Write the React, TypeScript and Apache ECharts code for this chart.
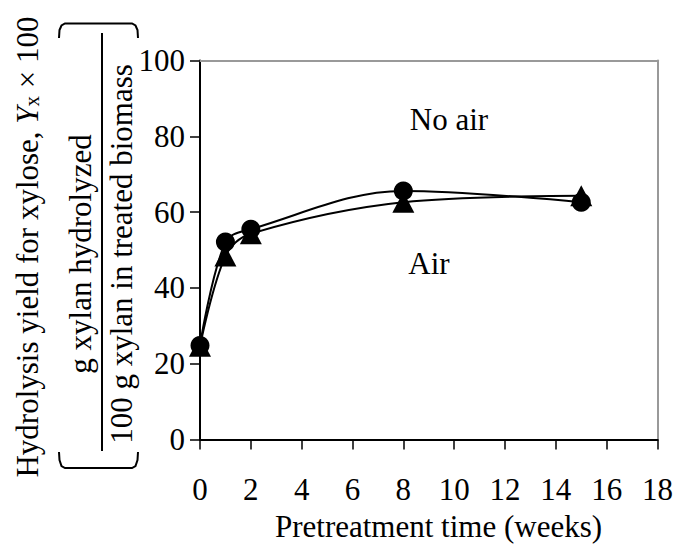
import React, { useEffect, useRef } from "react";
import * as echarts from "echarts";

const weeks = [0, 1, 2, 8, 15];
const circleSeries = [24.8, 52.1, 55.5, 65.6, 62.6];
const triangleSeries = [24.6, 48.4, 54.3, 62.6, 64.3];
const xTicks = { min: 0, max: 18, interval: 2 };
const yTicks = { min: 0, max: 100, interval: 20 };

const FONT = "Liberation Serif";
const FS = 31;

export default function App() {
  const ref = useRef<HTMLDivElement>(null);
  useEffect(() => {
    if (!ref.current) return;
    const chart = echarts.init(ref.current, undefined, { renderer: "svg" });
    const textStyle = (text: string, extra: any = {}) => ({
      text,
      fontSize: FS,
      fontFamily: FONT,
      fill: "#000",
      align: "center",
      verticalAlign: "middle",
      textAlign: "center",
      textVerticalAlign: "middle",
      ...extra,
    });
    chart.setOption({
      animation: false,
      backgroundColor: "#fff",
      textStyle: { fontFamily: FONT },
      grid: { left: 200, right: 14, top: 60.5, bottom: 104.5, show: false },
      xAxis: [
        {
          type: "value",
          min: xTicks.min,
          max: xTicks.max,
          interval: xTicks.interval,
          splitLine: { show: false },
          axisLine: { show: true, onZero: false, lineStyle: { color: "#000", width: 2 } },
          axisTick: { show: true, inside: false, length: 10, lineStyle: { color: "#000", width: 1.5 } },
          axisLabel: { fontSize: FS, fontFamily: FONT, color: "#000", margin: 34 },
        },
        {
          type: "value",
          position: "top",
          min: xTicks.min,
          max: xTicks.max,
          splitLine: { show: false },
          axisLine: { show: true, onZero: false, lineStyle: { color: "#999", width: 2 } },
          axisTick: { show: false },
          axisLabel: { show: false },
        },
      ],
      yAxis: [
        {
          type: "value",
          min: yTicks.min,
          max: yTicks.max,
          interval: yTicks.interval,
          splitLine: { show: false },
          axisLine: { show: true, onZero: false, lineStyle: { color: "#000", width: 2 } },
          axisTick: { show: true, inside: false, length: 10, lineStyle: { color: "#000", width: 1.5 } },
          axisLabel: { fontSize: FS, fontFamily: FONT, color: "#000", margin: 15 },
        },
        {
          type: "value",
          position: "right",
          min: yTicks.min,
          max: yTicks.max,
          splitLine: { show: false },
          axisLine: { show: true, onZero: false, lineStyle: { color: "#999", width: 2 } },
          axisTick: { show: false },
          axisLabel: { show: false },
        },
      ],
      series: [
        {
          name: "Air",
          type: "line",
          data: weeks.map((w, i) => [w, triangleSeries[i]]),
          smooth: 0.35,
          symbol: "triangle",
          symbolSize: [22, 21],
          clip: false,
          lineStyle: { color: "#000", width: 2 },
          itemStyle: { color: "#000" },
        },
        {
          name: "No air",
          type: "line",
          data: weeks.map((w, i) => [w, circleSeries[i]]),
          smooth: 0.35,
          symbol: "circle",
          symbolSize: 19,
          clip: false,
          lineStyle: { color: "#000", width: 2 },
          itemStyle: { color: "#000" },
        },
      ],
      graphic: [
        { type: "text", x: 449, y: 119, style: textStyle("No air") },
        { type: "text", x: 429, y: 263, style: textStyle("Air") },
        { type: "text", x: 438.5, y: 526, style: textStyle("Pretreatment time (weeks)") },
        {
          type: "text",
          x: 27,
          y: 247,
          rotation: Math.PI / 2,
          style: textStyle("Hydrolysis yield for xylose, {i|Y}{s|x} × 100", {
            rich: {
              i: { fontSize: FS, fontFamily: FONT, fontStyle: "italic", fill: "#000" },
              s: { fontSize: 21, fontFamily: FONT, fill: "#000", lineHeight: 25, verticalAlign: "bottom" },
            },
          }),
        },
        {
          type: "text",
          x: 80,
          y: 254,
          rotation: Math.PI / 2,
          style: textStyle("g xylan hydrolyzed"),
        },
        {
          type: "text",
          x: 121.5,
          y: 254,
          rotation: Math.PI / 2,
          style: textStyle("100 g xylan in treated biomass"),
        },
        {
          type: "line",
          shape: { x1: 102, y1: 33, x2: 102, y2: 451 },
          style: { stroke: "#000", lineWidth: 2 },
        },
        {
          type: "polyline",
          shape: {
            points: [
              [59, 38], [59.5, 30], [61.5, 25.5], [65, 23.5], [132, 23.5], [135.5, 25.5], [137.5, 30], [138, 38],
            ],
          },
          style: { stroke: "#000", lineWidth: 2, fill: null },
        },
        {
          type: "polyline",
          shape: {
            points: [
              [59, 452], [59.5, 460], [61.5, 466], [65, 468], [132, 468], [135.5, 466], [137.5, 460], [138, 452],
            ],
          },
          style: { stroke: "#000", lineWidth: 2, fill: null },
        },
      ],
    });
    return () => chart.dispose();
  }, []);
  return (
    <div
      ref={ref}
      style={{ position: "fixed", left: 0, top: 0, width: 676, height: 544, background: "#fff" }}
    />
  );
}
